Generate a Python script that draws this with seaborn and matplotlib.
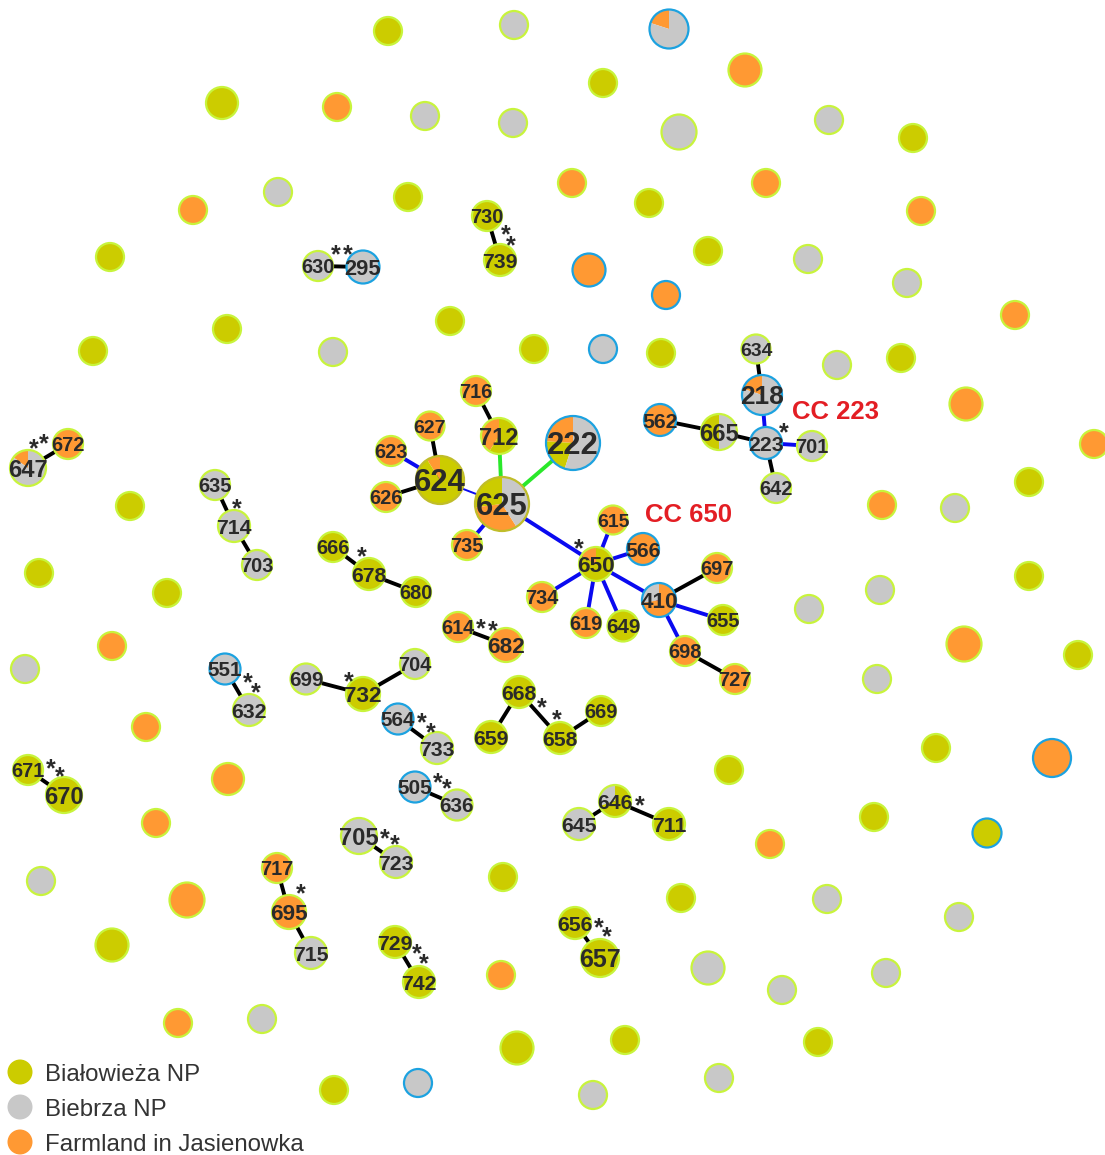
import matplotlib
matplotlib.use("Agg")
import matplotlib.pyplot as plt
from matplotlib.patches import Wedge, Circle
import pandas as pd
import seaborn as sns

# canvas in pixel units (y measured from the top, flipped when drawn)
W, H = 1105, 1155

populations = ["Białowieża NP", "Biebrza NP", "Farmland in Jasienowka"]
pop_codes = {"Bia": "Białowieża NP", "Bie": "Biebrza NP", "Far": "Farmland in Jasienowka"}
pop_colors = {"Białowieża NP": "#cccc00", "Biebrza NP": "#c8c8c8",
              "Farmland in Jasienowka": "#ff9933"}
ring_colors = {"g": "#c8f43c", "b": "#1ca2e0", "o": "#c0bd2a"}
link_colors = {"k": "#000000", "b": "#0a0af0", "g": "#2ae82a", "t": "#0a0af0"}

# singleton sequence types (no label): x, y, radius, population, ring
singletons = [
    (388, 31, 15, "Bia", "g"), (514, 25, 15, "Bie", "g"), (603, 83, 15, "Bia", "g"),
    (745, 70, 17.5, "Far", "g"), (222, 103, 17, "Bia", "g"), (337, 107, 15, "Far", "g"),
    (425, 116, 15, "Bie", "g"), (513, 123, 15, "Bie", "g"), (679, 132, 18.5, "Bie", "g"),
    (829, 120, 15, "Bie", "g"), (913, 138, 15, "Bia", "g"), (278, 192, 15, "Bie", "g"),
    (193, 210, 15, "Far", "g"), (408, 197, 15, "Bia", "g"), (572, 183, 15, "Far", "g"),
    (649, 203, 15, "Bia", "g"), (766, 183, 15, "Far", "g"), (921, 211, 15, "Far", "g"),
    (110, 257, 15, "Bia", "g"), (708, 251, 15, "Bia", "g"), (808, 259, 15, "Bie", "g"),
    (907, 283, 15, "Bie", "g"), (589, 270, 17.5, "Far", "b"), (666, 295, 15, "Far", "b"),
    (1015, 315, 15, "Far", "g"), (227, 329, 15, "Bia", "g"), (450, 321, 15, "Bia", "g"),
    (333, 352, 15, "Bie", "g"), (93, 351, 15, "Bia", "g"), (534, 349, 15, "Bia", "g"),
    (603, 349, 15, "Bie", "b"), (661, 353, 15, "Bia", "g"), (837, 365, 15, "Bie", "g"),
    (901, 358, 15, "Bia", "g"), (966, 404, 17.5, "Far", "g"), (1094, 444, 15, "Far", "g"),
    (130, 506, 15, "Bia", "g"), (1029, 482, 15, "Bia", "g"), (882, 505, 15, "Far", "g"),
    (955, 508, 15, "Bie", "g"), (39, 573, 15, "Bia", "g"), (167, 593, 15, "Bia", "g"),
    (1029, 576, 15, "Bia", "g"), (880, 590, 15, "Bie", "g"), (809, 609, 15, "Bie", "g"),
    (112, 646, 15, "Far", "g"), (964, 644, 18.5, "Far", "g"), (25, 669, 15, "Bie", "g"),
    (1078, 655, 15, "Bia", "g"), (877, 679, 15, "Bie", "g"), (146, 727, 15, "Far", "g"),
    (228, 779, 17, "Far", "g"), (729, 770, 15, "Bia", "g"), (936, 748, 15, "Bia", "g"),
    (1052, 758, 20, "Far", "b"), (156, 823, 15, "Far", "g"), (874, 817, 15, "Bia", "g"),
    (770, 844, 15, "Far", "g"), (987, 833, 15.5, "Bia", "b"), (41, 881, 15, "Bie", "g"),
    (187, 900, 18.5, "Far", "g"), (503, 877, 15, "Bia", "g"), (681, 898, 15, "Bia", "g"),
    (827, 899, 15, "Bie", "g"), (959, 917, 15, "Bie", "g"), (112, 945, 17.5, "Bia", "g"),
    (708, 968, 17.5, "Bie", "g"), (782, 990, 15, "Bie", "g"), (886, 973, 15, "Bie", "g"),
    (501, 975, 15, "Far", "g"), (178, 1023, 15, "Far", "g"), (262, 1019, 15, "Bie", "g"),
    (517, 1048, 17.5, "Bia", "g"), (625, 1040, 15, "Bia", "g"), (818, 1042, 15, "Bia", "g"),
    (334, 1090, 15, "Bia", "g"), (418, 1083, 15, "Bie", "b"), (593, 1095, 15, "Bie", "g"),
    (719, 1078, 15, "Bie", "g"),
]

# labelled single-population sequence types: ST, x, y, radius, population, ring
labelled = [
    ("630", 318, 266, 16, "Bie", "g"), ("295", 363, 267, 17.5, "Bie", "b"),
    ("730", 487, 216, 16, "Bia", "g"), ("739", 500, 260, 17, "Bia", "g"),
    ("634", 756, 349, 15.5, "Bie", "g"), ("562", 660, 420, 17, "Far", "b"),
    ("223", 766, 443, 17, "Bie", "b"), ("701", 812, 446, 16, "Bie", "g"),
    ("642", 776, 488, 16, "Bie", "g"), ("716", 476, 391, 16, "Far", "g"),
    ("627", 430, 426, 15.5, "Far", "g"), ("623", 391, 451, 16, "Far", "g"),
    ("626", 386, 497, 16, "Far", "g"), ("735", 467, 545, 16, "Far", "g"),
    ("615", 613, 520, 15.5, "Far", "g"), ("566", 643, 549, 17, "Far", "b"),
    ("734", 542, 597, 16, "Far", "g"), ("619", 586, 623, 16, "Far", "g"),
    ("649", 623, 626, 16.5, "Bia", "g"), ("697", 717, 568, 16, "Far", "g"),
    ("655", 723, 620, 16, "Bia", "g"), ("698", 685, 651, 16, "Far", "g"),
    ("727", 735, 679, 16, "Far", "g"), ("672", 68, 444, 16, "Far", "g"),
    ("635", 215, 485, 16, "Bie", "g"), ("714", 234, 526, 17, "Bie", "g"),
    ("703", 257, 565, 16, "Bie", "g"), ("666", 333, 547, 16, "Bia", "g"),
    ("678", 369, 574, 17, "Bia", "g"), ("680", 416, 592, 16, "Bia", "g"),
    ("614", 458, 627, 16, "Far", "g"), ("682", 506, 645, 18, "Far", "g"),
    ("551", 225, 669, 16.5, "Bie", "b"), ("632", 249, 710, 17, "Bie", "g"),
    ("699", 306, 679, 16.5, "Bie", "g"), ("732", 363, 694, 18, "Bia", "g"),
    ("704", 415, 664, 16, "Bie", "g"), ("564", 398, 719, 16.5, "Bie", "b"),
    ("733", 437, 748, 17, "Bie", "g"), ("505", 415, 787, 16.5, "Bie", "b"),
    ("636", 457, 805, 16.5, "Bie", "g"), ("668", 519, 692, 17, "Bia", "g"),
    ("659", 491, 737, 17, "Bia", "g"), ("658", 560, 738, 17, "Bia", "g"),
    ("669", 601, 711, 16, "Bia", "g"), ("645", 579, 824, 17, "Bie", "g"),
    ("711", 669, 824, 17, "Bia", "g"), ("671", 28, 770, 16, "Bia", "g"),
    ("670", 64, 795, 19, "Bia", "g"), ("705", 359, 836, 19, "Bie", "g"),
    ("723", 396, 862, 17, "Bie", "g"), ("717", 277, 868, 16, "Far", "g"),
    ("695", 289, 912, 18, "Far", "g"), ("715", 311, 953, 17, "Bie", "g"),
    ("729", 395, 942, 17, "Bia", "g"), ("742", 419, 982, 17, "Bia", "g"),
    ("656", 575, 923, 17, "Bia", "g"), ("657", 600, 958, 20, "Bia", "g"),
]

# mixed-population sequence types: ST, x, y, radius, ring, shares (counter-clockwise from 12 o'clock)
mixed = [
    ("", 669, 29, 20.5, "b", [("Far", 0.20), ("Bie", 0.80)]),
    ("218", 762, 395, 21, "b", [("Far", 0.20), ("Bie", 0.80)]),
    ("665", 719, 432, 19, "g", [("Bia", 0.50), ("Bie", 0.50)]),
    ("712", 499, 436, 19, "g", [("Far", 0.41), ("Bia", 0.59)]),
    ("624", 440, 480, 25, "o", [("Far", 0.09), ("Bia", 0.91)]),
    ("625", 502, 504, 28, "o", [("Bia", 0.27), ("Far", 0.32), ("Bie", 0.41)]),
    ("222", 573, 443, 28, "b", [("Far", 0.24), ("Bia", 0.21), ("Bie", 0.55)]),
    ("650", 596, 564, 18, "g", [("Far", 0.17), ("Bia", 0.83)]),
    ("410", 659, 600, 18, "b", [("Bie", 0.28), ("Far", 0.72)]),
    ("647", 28, 468, 19, "g", [("Far", 0.15), ("Bie", 0.85)]),
    ("646", 615, 801, 17, "g", [("Bie", 0.30), ("Bia", 0.70)]),
]

# goeBURST links: from, to, kind (k = SLV, b = tiebreak, g = DLV, t = thin)
links_from = ["630", "730", "634", "218", "665", "562", "223", "223", "716", "712",
              "222", "627", "623", "626", "624", "625", "625", "650", "650", "650",
              "650", "650", "650", "410", "410", "410", "698", "672", "635", "714",
              "666", "678", "614", "551", "699", "732", "564", "505", "668", "668",
              "658", "646", "646", "671", "705", "717", "695", "729", "656"]
links_to = ["295", "739", "218", "223", "223", "665", "701", "642", "712", "625",
            "625", "624", "624", "624", "625", "735", "650", "615", "566", "734",
            "619", "649", "410", "697", "655", "698", "727", "647", "714", "703",
            "678", "680", "682", "632", "732", "704", "733", "636", "659", "658",
            "669", "645", "711", "670", "723", "695", "715", "742", "657"]
links_kind = ["k", "k", "k", "b", "k", "k", "b", "k", "k", "g",
              "g", "k", "b", "k", "t", "b", "b", "b", "b", "b",
              "b", "b", "b", "k", "b", "b", "k", "k", "k", "k",
              "k", "k", "k", "k", "k", "k", "k", "k", "k", "k",
              "k", "k", "k", "k", "k", "k", "k", "k", "k"]

# asterisk markers next to sequence types
star_x = [336, 348, 506, 511, 34, 44, 237, 362, 784, 579, 481, 493, 248, 256, 349,
          422, 431, 438, 447, 542, 557, 640, 51, 60, 385, 395, 301, 417, 424, 599, 607]
star_y = [249, 249, 229, 240, 443, 438, 503, 551, 427, 543, 623, 625, 677, 687, 676,
          717, 727, 777, 783, 702, 714, 800, 763, 771, 833, 839, 888, 948, 958, 922, 931]

cc_text = ["CC 223", "CC 650"]
cc_x = [792, 645]
cc_y = [419, 522]

LABEL_FONT = "Liberation Sans"
PX = 0.72  # points per pixel at 100 dpi

sns.set_theme(style="white")
plt.rcParams["font.family"] = [LABEL_FONT, "DejaVu Sans"]

fig = plt.figure(figsize=(W / 100, H / 100), dpi=100)
ax = fig.add_axes([0, 0, 1, 1])
ax.set_xlim(0, W)
ax.set_ylim(0, H)
ax.axis("off")

# node lookup for drawing links
pos = {}
for lab, x, y, r, p, ring in labelled:
    pos[lab] = (x, H - y)
for lab, x, y, r, ring, parts in mixed:
    if lab:
        pos[lab] = (x, H - y)

for a, b, kind in zip(links_from, links_to, links_kind):
    (x1, y1), (x2, y2) = pos[a], pos[b]
    lw = 1.4 if kind == "t" else 2.8
    ax.plot([x1, x2], [y1, y2], color=link_colors[kind], lw=lw, zorder=1,
            solid_capstyle="butt")

# single-population nodes drawn with seaborn
rows = [dict(label="", x=x, y=H - y, r=r, pop=pop_codes[p], ring=ring)
        for x, y, r, p, ring in singletons]
rows += [dict(label=lab, x=x, y=H - y, r=r, pop=pop_codes[p], ring=ring)
         for lab, x, y, r, p, ring in labelled]
nodes = pd.DataFrame(rows)
nodes["area"] = (2 * (nodes["r"] - 1) * PX) ** 2
amin, amax = nodes["area"].min(), nodes["area"].max()
for ring, grp in nodes.groupby("ring"):
    sns.scatterplot(data=grp, x="x", y="y", hue="pop", palette=pop_colors,
                    hue_order=populations, size="area", sizes=(amin, amax),
                    size_norm=(amin, amax), edgecolor=ring_colors[ring],
                    linewidth=1.6, legend=False, ax=ax, zorder=3)

# mixed nodes as pies
for lab, x, y, r, ring, parts in mixed:
    yc = H - y
    start = 90.0
    for code, frac in parts:
        end = start + 360.0 * frac
        ax.add_patch(Wedge((x, yc), r - 1, start, end, facecolor=pop_colors[pop_codes[code]],
                           edgecolor="none", zorder=3))
        start = end
    ax.add_patch(Circle((x, yc), r - 1, fill=False, edgecolor=ring_colors[ring],
                        lw=1.6, zorder=3.2))

# ST numbers
def put_label(lab, x, yc, r):
    em = min(1.25 * r, 31.0)
    ax.text(x, yc - 0.36 * em, lab, ha="center", va="baseline", fontsize=em * PX,
            fontweight="bold", color="#2a2a2a", family=LABEL_FONT, zorder=5)

for lab, x, y, r, p, ring in labelled:
    put_label(lab, x, H - y, r)
for lab, x, y, r, ring, parts in mixed:
    if lab:
        put_label(lab, x, H - y, r)

star_em = 25.0
for sx, sy in zip(star_x, star_y):
    ax.text(sx, H - (sy + 0.55 * star_em), "*", ha="center", va="baseline",
            fontsize=star_em * PX, fontweight="bold", color="#2a2a2a",
            family=LABEL_FONT, zorder=5)

for t, x, y in zip(cc_text, cc_x, cc_y):
    ax.text(x, H - y, t, ha="left", va="baseline", fontsize=18.5, fontweight="bold",
            color="#e31e24", family=LABEL_FONT, zorder=5)

# legend
leg_y = [1072, 1107, 1142]
leg = pd.DataFrame({"x": [20, 20, 20], "y": [H - v for v in leg_y], "pop": populations})
sns.scatterplot(data=leg, x="x", y="y", hue="pop", palette=pop_colors, hue_order=populations,
                s=(2 * 12.5 * PX) ** 2, linewidth=0, legend=False, ax=ax, zorder=3)
for v, name in zip(leg_y, populations):
    ax.text(45, H - (v + 0.36 * 24), name, ha="left", va="baseline", fontsize=17.3,
            color="#333333", family=LABEL_FONT)

fig.savefig("out.png", dpi=100, facecolor="white")
